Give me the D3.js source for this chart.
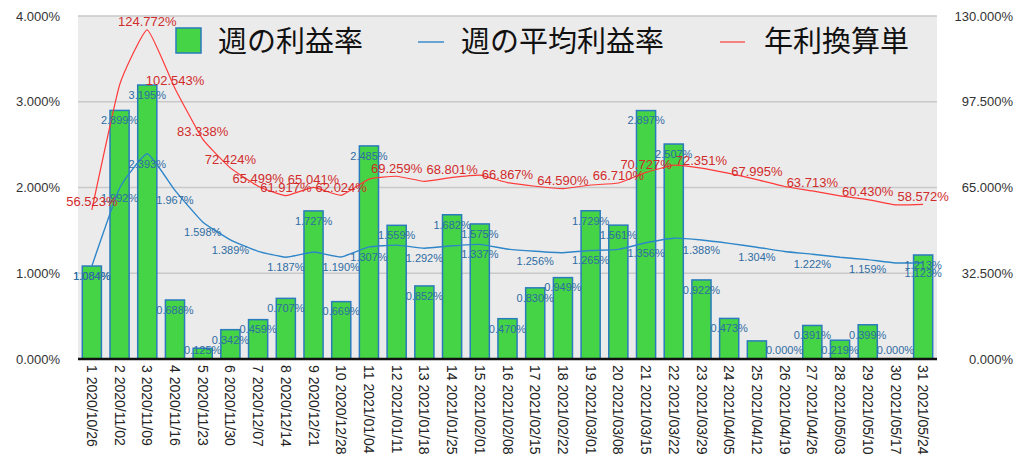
<!DOCTYPE html>
<html>
<head>
<meta charset="utf-8">
<script src="https://cdn.jsdelivr.net/npm/d3@7"></script>
<style>
  html, body { margin: 0; padding: 0; background: #ffffff; }
  svg { display: block; font-family: "Liberation Sans", Arial, "Noto Sans CJK JP", sans-serif; }
</style>
</head>
<body>
<svg id="chart" width="1024" height="466"></svg>
<script>
// ---- data ----
const weekNumbers = [1,2,3,4,5,6,7,8,9,10,11,12,13,14,15,16,17,18,19,20,21,22,23,24,25,26,27,28,29,30,31];
const weekDates = ["2020/10/26","2020/11/02","2020/11/09","2020/11/16","2020/11/23","2020/11/30","2020/12/07","2020/12/14","2020/12/21","2020/12/28","2021/01/04","2021/01/11","2021/01/18","2021/01/25","2021/02/01","2021/02/08","2021/02/15","2021/02/22","2021/03/01","2021/03/08","2021/03/15","2021/03/22","2021/03/29","2021/04/05","2021/04/12","2021/04/19","2021/04/26","2021/05/03","2021/05/10","2021/05/17","2021/05/24"];
// 週の利益率 (%)
const weeklyRate = [1.084,2.899,3.195,0.688,0.125,0.342,0.459,0.707,1.727,0.669,2.485,1.559,0.852,1.682,1.575,0.470,0.830,0.949,1.729,1.561,2.897,2.507,0.922,0.473,0.211,0.000,0.391,0.219,0.399,0.000,1.213];
// 週の平均利益率 (%)
const averageRate = [1.084,1.992,2.393,1.967,1.598,1.389,1.256,1.187,1.247,1.190,1.307,1.328,1.292,1.320,1.337,1.282,1.256,1.239,1.265,1.279,1.356,1.409,1.388,1.349,1.304,1.254,1.222,1.186,1.159,1.120,1.123];
// 年利換算単 (%)
const annualRate = [56.523,103.842,124.772,102.543,83.338,72.424,65.499,61.917,65.041,62.024,68.166,69.259,67.349,68.801,69.688,66.867,65.483,64.590,65.937,66.710,70.727,73.452,72.351,70.354,67.995,65.380,63.713,61.845,60.430,58.415,58.572];
// weeks whose data labels are visible in the original
const weeklyLabelWeeks = weekNumbers.filter(w => w !== 25);
const averageLabelWeeks = [1,2,3,4,5,6,8,10,11,13,15,17,19,21,23,25,27,29,31];
const annualLabelWeeks = [1,3,4,5,6,7,8,9,10,12,14,16,18,20,21,23,25,27,29,31];
const leftTicks = [0,1,2,3,4];
const rightTicks = [0,32.5,65,97.5,130];
const seriesNames = ["週の利益率","週の平均利益率","年利換算単"];

// ---- layout ----
const plot = {left: 78, right: 937, top: 16, bottom: 359};
const svg = d3.select("#chart");
const categories = weekNumbers.map((w, i) => w + " " + weekDates[i]);

const x = d3.scaleBand().domain(categories).range([plot.left, plot.right])
  .paddingInner(0.31).paddingOuter(0.155);
const yL = d3.scaleLinear().domain([0, 4]).range([plot.bottom, plot.top]);
const yR = d3.scaleLinear().domain([0, 130]).range([plot.bottom, plot.top]);
const cx = i => x(categories[i]) + x.bandwidth() / 2;
const fmt = v => d3.format(".3f")(v) + "%";

// background
svg.append("rect").attr("x", plot.left).attr("y", plot.top)
  .attr("width", plot.right - plot.left).attr("height", plot.bottom - plot.top)
  .attr("fill", "#ebebeb");

// gridlines
svg.append("g").selectAll("line").data(leftTicks.filter(t => t > 0)).join("line")
  .attr("x1", plot.left).attr("x2", plot.right)
  .attr("y1", d => yL(d)).attr("y2", d => yL(d))
  .attr("stroke", "#c9c9c9").attr("stroke-width", 1.5);

// left axis
const axL = svg.append("g").attr("transform", `translate(${plot.left},0)`)
  .call(d3.axisLeft(yL).tickValues(leftTicks).tickSize(0).tickPadding(18).tickFormat(fmt));
axL.select(".domain").remove();
axL.selectAll("text").attr("font-size", 13).attr("fill", "#333")
  .attr("font-family", "Liberation Sans, Arial, sans-serif");

// right axis
const axR = svg.append("g").attr("transform", `translate(${plot.right},0)`)
  .call(d3.axisRight(yR).tickValues(rightTicks).tickSize(0).tickFormat(fmt));
axR.select(".domain").remove();
axR.selectAll("text").attr("font-size", 13).attr("fill", "#333")
  .attr("text-anchor", "end").attr("x", 76)
  .attr("font-family", "Liberation Sans, Arial, sans-serif");

// bars
svg.append("g").selectAll("rect").data(weeklyRate).join("rect")
  .attr("x", (d, i) => x(categories[i]))
  .attr("width", x.bandwidth())
  .attr("y", d => yL(d))
  .attr("height", d => yL(0) - yL(d))
  .attr("fill", "#45d445").attr("stroke", "#2a7bbd").attr("stroke-width", 1.5);

// bottom axis line
svg.append("line").attr("x1", plot.left).attr("x2", plot.right)
  .attr("y1", plot.bottom).attr("y2", plot.bottom)
  .attr("stroke", "#111").attr("stroke-width", 2.5);

// x labels
const axB = svg.append("g").attr("transform", `translate(0,${plot.bottom})`)
  .call(d3.axisBottom(x).tickSize(0).tickPadding(0));
axB.select(".domain").remove();
axB.selectAll("text")
  .attr("font-size", 14).attr("fill", "#222")
  .attr("font-family", "Liberation Sans, Arial, sans-serif")
  .attr("transform", "rotate(90)")
  .attr("text-anchor", "start")
  .attr("x", 6).attr("y", 0).attr("dy", "0.35em");

// lines
const smooth = d3.curveCardinal.tension(0.6);
const avgLine = d3.line().x((d, i) => cx(i)).y(d => yL(d)).curve(smooth);
svg.append("path").datum(averageRate).attr("d", avgLine)
  .attr("fill", "none").attr("stroke", "#2e86c9").attr("stroke-width", 1.4);
const annLine = d3.line().x((d, i) => cx(i)).y(d => yR(d)).curve(smooth);
svg.append("path").datum(annualRate).attr("d", annLine)
  .attr("fill", "none").attr("stroke", "#ff3a3a").attr("stroke-width", 1.2);

// data labels
const lblFont = "Liberation Sans, Arial, sans-serif";
svg.append("g").selectAll("text")
  .data(weeklyLabelWeeks.map(w => w - 1)).join("text")
  .attr("x", i => cx(i))
  .attr("y", i => Math.min(yL(weeklyRate[i]) + 10, 350))
  .attr("dy", "0.35em").attr("text-anchor", "middle")
  .attr("font-size", 11).attr("font-family", lblFont).attr("fill", "#2f6ca3")
  .text(i => fmt(weeklyRate[i]));

svg.append("g").selectAll("text")
  .data(averageLabelWeeks.map(w => w - 1)).join("text")
  .attr("x", i => cx(i))
  .attr("y", i => yL(averageRate[i]) + 10)
  .attr("dy", "0.35em").attr("text-anchor", "middle")
  .attr("font-size", 11).attr("font-family", lblFont).attr("fill", "#2f6ca3")
  .text(i => fmt(averageRate[i]));

svg.append("g").selectAll("text")
  .data(annualLabelWeeks.map(w => w - 1)).join("text")
  .attr("x", i => cx(i))
  .attr("y", i => yR(annualRate[i]) - 8)
  .attr("dy", "0.35em").attr("text-anchor", "middle")
  .attr("font-size", 13).attr("font-family", lblFont).attr("fill", "#d12b2b")
  .text(i => fmt(annualRate[i]));

// legend
const lg = svg.append("g").attr("font-family", "Noto Sans CJK JP, sans-serif").attr("font-size", 29).attr("fill", "#111");
lg.append("rect").attr("x", 176).attr("y", 28).attr("width", 25).attr("height", 25)
  .attr("fill", "#45d445").attr("stroke", "#2a7bbd").attr("stroke-width", 1.5);
lg.append("text").attr("x", 218).attr("y", 42).attr("dy", "0.36em").text(seriesNames[0]);
lg.append("line").attr("x1", 418).attr("x2", 444).attr("y1", 42).attr("y2", 42)
  .attr("stroke", "#2e86c9").attr("stroke-width", 1.4);
lg.append("text").attr("x", 461).attr("y", 42).attr("dy", "0.36em").text(seriesNames[1]);
lg.append("line").attr("x1", 720).attr("x2", 745).attr("y1", 42).attr("y2", 42)
  .attr("stroke", "#ff3a3a").attr("stroke-width", 1.2);
lg.append("text").attr("x", 764).attr("y", 42).attr("dy", "0.36em").text(seriesNames[2]);
</script>
</body>
</html>
